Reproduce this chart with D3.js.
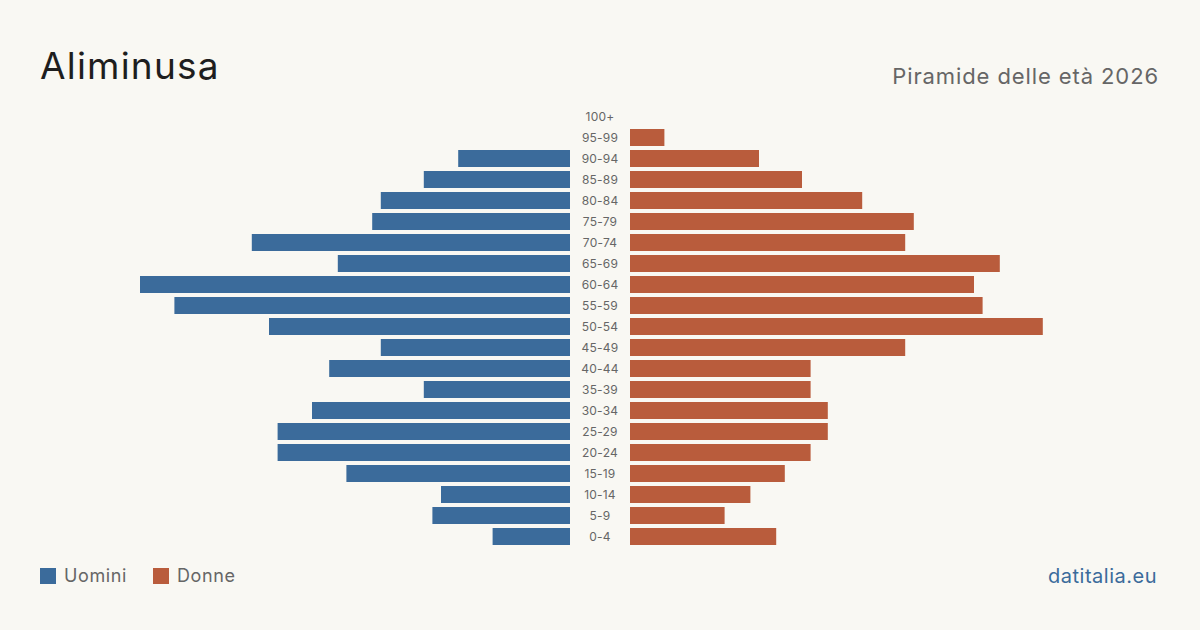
<!DOCTYPE html>
<html>
<head>
<meta charset="utf-8">
<script src="https://cdn.jsdelivr.net/npm/d3@7"></script>
<style>
  html, body { margin: 0; padding: 0; background: #f9f8f3; }
  svg { display: block; font-family: Inter, "Noto Sans", sans-serif; }
</style>
</head>
<body>
<svg id="chart" width="1200" height="630"></svg>
<script>
// fasce d'età, dall'alto verso il basso
const ages = ["100+", "95-99", "90-94", "85-89", "80-84", "75-79", "70-74", "65-69",
  "60-64", "55-59", "50-54", "45-49", "40-44", "35-39", "30-34", "25-29",
  "20-24", "15-19", "10-14", "5-9", "0-4"];
const uomini = [0, 0, 13, 17, 22, 23, 37, 27, 50, 46, 35, 22, 28, 17, 30, 34, 34, 26, 15, 16, 9];
const donne  = [0, 4, 15, 20, 27, 33, 32, 43, 40, 41, 48, 32, 21, 21, 23, 23, 21, 18, 14, 11, 17];

const colUomini = "#3b6b9b";
const colDonne = "#b95c3c";

const svg = d3.select("#chart");
svg.append("rect").attr("width", 1200).attr("height", 630).attr("fill", "#f9f8f3");

const y = d3.scaleBand().domain(ages).range([106, 547]).paddingInner(4 / 21).paddingOuter(2 / 21);

// stessa scala per entrambi i lati, 50 persone = 430px
const maxVal = 50;
const xLeft = d3.scaleLinear().domain([0, maxVal]).range([570, 140]);
const xRight = d3.scaleLinear().domain([0, maxVal]).range([630, 1060]);

const rows = ages.map((a, i) => ({ age: a, m: uomini[i], f: donne[i] }));

svg.append("g").selectAll("rect")
  .data(rows.filter(d => d.m > 0))
  .join("rect")
  .attr("x", d => xLeft(d.m))
  .attr("y", d => y(d.age))
  .attr("width", d => xLeft(0) - xLeft(d.m))
  .attr("height", y.bandwidth())
  .attr("fill", colUomini);

svg.append("g").selectAll("rect")
  .data(rows.filter(d => d.f > 0))
  .join("rect")
  .attr("x", xRight(0))
  .attr("y", d => y(d.age))
  .attr("width", d => xRight(d.f) - xRight(0))
  .attr("height", y.bandwidth())
  .attr("fill", colDonne);

svg.append("g").selectAll("text")
  .data(ages)
  .join("text")
  .attr("x", 600)
  .attr("y", d => y(d) + y.bandwidth() / 2)
  .attr("dy", "0.35em")
  .attr("text-anchor", "middle")
  .attr("font-size", 12)
  .attr("letter-spacing", 0.2)
  .attr("fill", "#666")
  .text(d => d);

// titoli
svg.append("text")
  .attr("x", 40).attr("y", 79)
  .attr("font-size", 37)
  .attr("letter-spacing", 1.2)
  .attr("fill", "#1e1e1e")
  .text("Aliminusa");

svg.append("text")
  .attr("x", 1159).attr("y", 84)
  .attr("text-anchor", "end")
  .attr("font-size", 22)
  .attr("letter-spacing", 0.9)
  .attr("fill", "#666")
  .text("Piramide delle età 2026");

// legenda
const legend = [
  { label: "Uomini", color: colUomini, x: 40 },
  { label: "Donne", color: colDonne, x: 153 }
];
const lg = svg.append("g").selectAll("g").data(legend).join("g")
  .attr("transform", d => `translate(${d.x}, 568)`);
lg.append("rect").attr("width", 16).attr("height", 16).attr("fill", d => d.color);
lg.append("text")
  .attr("x", 24).attr("y", 8).attr("dy", "0.36em")
  .attr("font-size", 18).attr("letter-spacing", 0.6).attr("fill", "#666")
  .text(d => d.label);

svg.append("text")
  .attr("x", 1157).attr("y", 583)
  .attr("text-anchor", "end")
  .attr("font-size", 20)
  .attr("letter-spacing", 0.5)
  .attr("fill", colUomini)
  .text("datitalia.eu");
</script>
</body>
</html>
